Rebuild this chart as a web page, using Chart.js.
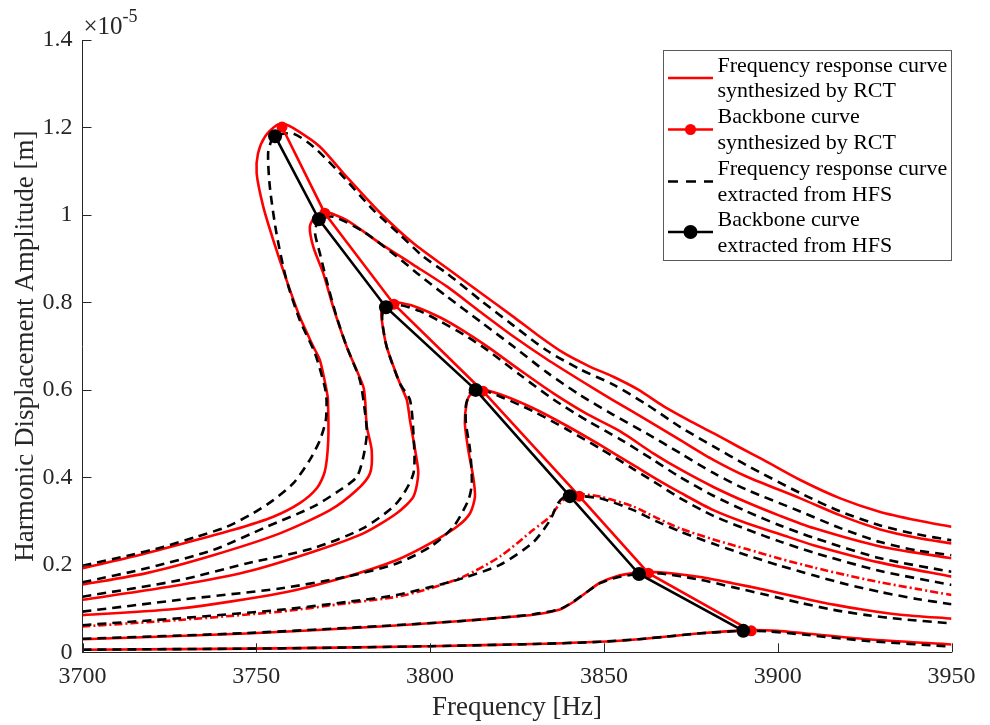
<!DOCTYPE html>
<html><head><meta charset="utf-8">
<script src="https://cdn.jsdelivr.net/npm/chart.js@4.4.0/dist/chart.umd.min.js"></script>
<style>html,body{margin:0;padding:0;background:#fff;}#wrap{width:990px;height:725px;position:relative;}</style>
</head><body><div id="wrap"><canvas id="c" width="990" height="725"></canvas></div>
<script>
// Axis ticks (frequency in Hz, amplitude in units of 1e-5 m)
const xTicks = [3700, 3750, 3800, 3850, 3900, 3950];
const yTicks = [0, 0.2, 0.4, 0.6, 0.8, 1.0, 1.2, 1.4];

// Frequency response curves synthesized by RCT (red)
const rct1F = [3700, 3714.6, 3729.0, 3743.4, 3754.9, 3762.5, 3767.4, 3769.7, 3770.7, 3770.6, 3770.2, 3768.3, 3766.4, 3762.5, 3758.7, 3754.9, 3752.0, 3750.1, 3750.5, 3752.5, 3755.8, 3757.7, 3761.6, 3768.3, 3776.0, 3785.6, 3795.2, 3804.9, 3814.5, 3824.0, 3831.0, 3838.3, 3845.5, 3852.7, 3860.0, 3867.1, 3874.3, 3881.5, 3888.7, 3895.9, 3906.5, 3918.0, 3929.5, 3940.0, 3950];
const rct1A = [0.192, 0.219, 0.249, 0.280, 0.310, 0.341, 0.375, 0.413, 0.485, 0.577, 0.600, 0.668, 0.699, 0.767, 0.851, 0.942, 1.019, 1.095, 1.141, 1.179, 1.205, 1.209, 1.194, 1.156, 1.087, 1.005, 0.935, 0.878, 0.822, 0.767, 0.725, 0.685, 0.655, 0.630, 0.600, 0.563, 0.531, 0.501, 0.470, 0.440, 0.394, 0.352, 0.321, 0.302, 0.287];
const rct2F = [3700, 3718.4, 3737.6, 3756.8, 3771.2, 3778.9, 3782.7, 3783.2, 3781.8, 3781.3, 3780.8, 3776.0, 3772.1, 3769.3, 3766.4, 3765.4, 3766.9, 3769.7, 3776.0, 3785.6, 3795.2, 3804.9, 3814.5, 3824.0, 3833.6, 3843.2, 3852.7, 3862.4, 3872.0, 3881.5, 3891.0, 3906.5, 3918.0, 3929.5, 3940.0, 3950];
const rct2A = [0.155, 0.181, 0.222, 0.272, 0.325, 0.371, 0.409, 0.462, 0.516, 0.577, 0.607, 0.699, 0.790, 0.866, 0.927, 0.973, 0.996, 1.007, 0.988, 0.935, 0.886, 0.836, 0.778, 0.722, 0.670, 0.622, 0.576, 0.531, 0.485, 0.440, 0.402, 0.352, 0.313, 0.281, 0.262, 0.249];
const rct3F = [3700, 3728.0, 3747.2, 3766.4, 3780.8, 3790.4, 3795.2, 3796.6, 3795.7, 3794.2, 3793.3, 3791.3, 3787.5, 3786.1, 3786.1, 3788.5, 3789.9, 3795.2, 3802.8, 3809.6, 3816.3, 3825.9, 3835.5, 3845.1, 3854.7, 3864.2, 3872.0, 3881.5, 3891.1, 3900.7, 3910.3, 3929.5, 3950];
const rct3A = [0.120, 0.154, 0.184, 0.230, 0.272, 0.318, 0.356, 0.409, 0.462, 0.531, 0.577, 0.615, 0.699, 0.760, 0.782, 0.801, 0.801, 0.792, 0.766, 0.735, 0.700, 0.645, 0.592, 0.545, 0.505, 0.455, 0.418, 0.378, 0.343, 0.312, 0.284, 0.242, 0.215];
const rct4F = [3700, 3728.0, 3756.8, 3776.0, 3790.4, 3800.0, 3807.7, 3811.5, 3812.9, 3812.4, 3811.0, 3810.0, 3810.5, 3811.5, 3814.4, 3820.1, 3829.7, 3839.3, 3848.9, 3858.5, 3866.0, 3872.0, 3881.5, 3891.1, 3900.7, 3910.3, 3929.5, 3950];
const rct4A = [0.085, 0.100, 0.135, 0.173, 0.211, 0.249, 0.287, 0.318, 0.356, 0.401, 0.462, 0.523, 0.569, 0.588, 0.600, 0.590, 0.558, 0.518, 0.474, 0.428, 0.392, 0.365, 0.325, 0.295, 0.270, 0.245, 0.205, 0.173];
const rct5F = [3700, 3728.0, 3756.8, 3776.0, 3790.4, 3800.0, 3809.6, 3820.1, 3829.7, 3834.5, 3837.4, 3840.2, 3843.1, 3848.9, 3858.5, 3865.0, 3872.0, 3881.5, 3891.1, 3900.7, 3910.3, 3920.0, 3929.5, 3940.0, 3950];
const rct5A = [0.059, 0.074, 0.093, 0.112, 0.127, 0.146, 0.173, 0.219, 0.280, 0.310, 0.341, 0.360, 0.362, 0.356, 0.333, 0.308, 0.283, 0.258, 0.236, 0.214, 0.194, 0.176, 0.160, 0.145, 0.131];
const rct6F = [3700, 3747.2, 3785.6, 3810.0, 3820.1, 3829.7, 3837.4, 3841.2, 3845.1, 3848.9, 3853.7, 3858.5, 3863.3, 3870.0, 3877.7, 3887.0, 3896.9, 3906.5, 3916.1, 3925.7, 3935.3, 3950];
const rct6A = [0.030, 0.043, 0.059, 0.072, 0.079, 0.086, 0.098, 0.115, 0.138, 0.159, 0.174, 0.181, 0.184, 0.180, 0.172, 0.158, 0.142, 0.125, 0.109, 0.096, 0.086, 0.077];
const rct7F = [3700, 3756.8, 3800.0, 3830.0, 3848.9, 3860.0, 3868.1, 3877.0, 3887.3, 3893.0, 3900.0, 3908.0, 3925.7, 3950];
const rct7A = [0.006, 0.009, 0.014, 0.019, 0.024, 0.030, 0.036, 0.043, 0.049, 0.051, 0.049, 0.043, 0.030, 0.018];

// Frequency response curves extracted from HFS (black dashed)
const hfs1F = [3700, 3713.6, 3723.2, 3732.8, 3741.5, 3749.1, 3754.9, 3760.6, 3765.4, 3768.3, 3770.0, 3770.2, 3769.7, 3766.9, 3762.5, 3758.7, 3755.8, 3753.9, 3753.4, 3754.4, 3755.6, 3760.6, 3766.4, 3774.1, 3783.7, 3791.3, 3798.0, 3804.9, 3814.5, 3824.0, 3833.6, 3843.2, 3852.7, 3862.4, 3872.0, 3881.5, 3891.0, 3906.5, 3918.0, 3929.5, 3940.0, 3950];
const hfs1A = [0.198, 0.222, 0.241, 0.264, 0.287, 0.318, 0.348, 0.386, 0.440, 0.485, 0.531, 0.577, 0.607, 0.683, 0.760, 0.851, 0.958, 1.064, 1.141, 1.171, 1.182, 1.186, 1.156, 1.095, 1.011, 0.955, 0.905, 0.866, 0.805, 0.747, 0.690, 0.647, 0.612, 0.566, 0.515, 0.471, 0.428, 0.364, 0.322, 0.290, 0.270, 0.256];
const hfs2F = [3700, 3718.4, 3737.6, 3753.0, 3766.4, 3774.1, 3778.9, 3780.8, 3781.8, 3781.3, 3779.8, 3776.0, 3773.1, 3770.2, 3768.3, 3766.9, 3767.4, 3768.0, 3772.1, 3780.8, 3790.4, 3797.0, 3804.9, 3814.5, 3824.0, 3833.6, 3843.2, 3852.7, 3862.4, 3872.0, 3881.5, 3891.0, 3906.5, 3918.0, 3929.5, 3940.0, 3950];
const hfs2A = [0.160, 0.192, 0.234, 0.287, 0.333, 0.371, 0.401, 0.447, 0.500, 0.547, 0.622, 0.699, 0.767, 0.851, 0.912, 0.958, 0.981, 0.990, 0.996, 0.962, 0.905, 0.862, 0.813, 0.756, 0.699, 0.640, 0.588, 0.543, 0.500, 0.455, 0.410, 0.372, 0.322, 0.284, 0.252, 0.233, 0.222];
const hfs3F = [3700, 3728.0, 3747.2, 3766.4, 3780.8, 3790.4, 3795.2, 3795.2, 3794.2, 3791.3, 3787.5, 3786.2, 3786.5, 3787.3, 3791.3, 3797.1, 3802.8, 3809.6, 3816.3, 3825.9, 3835.5, 3845.1, 3854.7, 3864.2, 3872.0, 3881.5, 3891.1, 3900.7, 3910.3, 3929.5, 3950];
const hfs3A = [0.127, 0.165, 0.203, 0.238, 0.284, 0.341, 0.409, 0.500, 0.577, 0.615, 0.699, 0.760, 0.782, 0.790, 0.794, 0.780, 0.757, 0.727, 0.692, 0.634, 0.578, 0.530, 0.487, 0.440, 0.400, 0.358, 0.322, 0.290, 0.262, 0.215, 0.184];
const hfs4F = [3700, 3728.0, 3756.8, 3776.0, 3790.4, 3800.0, 3806.7, 3811.0, 3812.0, 3811.5, 3810.3, 3810.3, 3811.2, 3812.1, 3816.3, 3829.7, 3839.3, 3848.9, 3858.5, 3866.0, 3872.0, 3881.5, 3891.1, 3900.7, 3910.3, 3929.5, 3950];
const hfs4A = [0.093, 0.120, 0.146, 0.173, 0.203, 0.241, 0.287, 0.348, 0.386, 0.462, 0.524, 0.565, 0.588, 0.600, 0.597, 0.551, 0.510, 0.466, 0.419, 0.382, 0.352, 0.312, 0.281, 0.253, 0.228, 0.186, 0.154];
const hfs5F = [3700, 3728.0, 3756.8, 3776.0, 3790.4, 3800.0, 3809.6, 3820.1, 3829.7, 3834.5, 3836.8, 3839.1, 3848.9, 3858.5, 3865.0, 3872.0, 3881.5, 3891.1, 3900.7, 3910.3, 3920.0, 3929.5, 3940.0, 3950];
const hfs5A = [0.062, 0.078, 0.097, 0.115, 0.131, 0.149, 0.170, 0.200, 0.252, 0.302, 0.341, 0.357, 0.352, 0.325, 0.300, 0.276, 0.248, 0.222, 0.198, 0.176, 0.155, 0.138, 0.122, 0.110];
const hfs6F = [3700, 3747.2, 3785.6, 3810.0, 3820.1, 3829.7, 3837.4, 3841.2, 3845.1, 3848.9, 3853.7, 3860.1, 3866.2, 3877.7, 3887.0, 3896.9, 3906.5, 3916.1, 3925.7, 3935.3, 3950];
const hfs6A = [0.031, 0.044, 0.060, 0.072, 0.079, 0.087, 0.099, 0.116, 0.138, 0.158, 0.171, 0.179, 0.180, 0.166, 0.149, 0.131, 0.113, 0.097, 0.085, 0.076, 0.066];
const hfs7F = [3700, 3756.8, 3800.0, 3830.0, 3848.9, 3860.0, 3868.1, 3877.0, 3887.3, 3890.1, 3897.0, 3908.0, 3925.7, 3950];
const hfs7A = [0.006, 0.009, 0.014, 0.019, 0.024, 0.030, 0.036, 0.043, 0.048, 0.049, 0.048, 0.040, 0.026, 0.013];

// Backbone curves
const bbRctF = [3757.4, 3769.7, 3789.6, 3815.2, 3842.9, 3862.8, 3892.4];
const bbRctA = [1.201, 1.004, 0.796, 0.597, 0.357, 0.181, 0.049];
const bbHfsF = [3755.4, 3768.0, 3787.3, 3813.1, 3840.2, 3860.1, 3890.1];
const bbHfsA = [1.180, 0.990, 0.789, 0.600, 0.357, 0.179, 0.049];

const legendLabels = [
  ["Frequency response curve", "synthesized by RCT"],
  ["Backbone curve", "synthesized by RCT"],
  ["Frequency response curve", "extracted from HFS"],
  ["Backbone curve", "extracted from HFS"]
];

const SERIF = "'Liberation Serif', 'Times New Roman', serif";
const AX = '#262626';
const pts = (F, A) => F.map((f, i) => ({x: f, y: A[i]}));

const rctSets = [[rct1F, rct1A], [rct2F, rct2A], [rct3F, rct3A], [rct4F, rct4A], [rct5F, rct5A], [rct6F, rct6A], [rct7F, rct7A]];
const hfsSets = [[hfs1F, hfs1A], [hfs2F, hfs2A], [hfs3F, hfs3A], [hfs4F, hfs4A], [hfs5F, hfs5A], [hfs6F, hfs6A], [hfs7F, hfs7A]];

const datasets = [];
rctSets.forEach(([F, A], i) => datasets.push({
  label: 'RCT FRC ' + (i + 1), data: pts(F, A), showLine: true, borderColor: '#ff0000',
  borderWidth: 2.6, pointRadius: 0, tension: 0.25, order: 3,
  borderDash: i === 4 ? [8, 3, 2, 3] : []
}));
hfsSets.forEach(([F, A], i) => datasets.push({
  label: 'HFS FRC ' + (i + 1), data: pts(F, A), showLine: true, borderColor: '#000000',
  borderWidth: 2.6, pointRadius: 0, tension: 0.25, order: 2, borderDash: [9, 6]
}));
datasets.push({label: 'RCT backbone', data: pts(bbRctF, bbRctA), showLine: true, borderColor: '#ff0000',
  borderWidth: 2.6, pointRadius: 5.5, pointBackgroundColor: '#ff0000', pointBorderWidth: 0, tension: 0, order: 1});
datasets.push({label: 'HFS backbone', data: pts(bbHfsF, bbHfsA), showLine: true, borderColor: '#000000',
  borderWidth: 2.6, pointRadius: 7, pointBackgroundColor: '#000000', pointBorderWidth: 0, tension: 0, order: 0});

const deco = {
  id: 'deco',
  afterDraw(chart) {
    const {ctx, chartArea: a, scales: {x, y}} = chart;
    ctx.save();
    ctx.strokeStyle = AX; ctx.lineWidth = 1; ctx.setLineDash([]);
    xTicks.forEach(v => { const p = Math.round(x.getPixelForValue(v)) + 0.5;
      ctx.beginPath(); ctx.moveTo(p, a.bottom); ctx.lineTo(p, a.bottom - 9); ctx.stroke(); });
    yTicks.forEach(v => { const p = Math.round(y.getPixelForValue(v)) + 0.5;
      ctx.beginPath(); ctx.moveTo(a.left, p); ctx.lineTo(a.left + 9, p); ctx.stroke(); });
    // exponent label
    ctx.fillStyle = AX; ctx.textBaseline = 'alphabetic'; ctx.textAlign = 'left';
    ctx.font = '25px ' + SERIF; ctx.fillText('\u00d710', a.left + 1, 34);
    const w = ctx.measureText('\u00d710').width;
    ctx.font = '18px ' + SERIF; ctx.fillText('-5', a.left + 1 + w, 22);
    // legend
    const L = 663.5, T = 50.5, R = 951.5, B = 260.5;
    ctx.fillStyle = '#ffffff'; ctx.fillRect(L, T, R - L, B - T);
    ctx.strokeStyle = '#5a5a5a'; ctx.lineWidth = 1; ctx.strokeRect(L, T, R - L, B - T);
    ctx.font = '22px ' + SERIF; ctx.fillStyle = '#000'; ctx.textBaseline = 'middle';
    const lineY = [66.7, 91.7, 117.3, 143.3, 169.3, 195, 220.5, 246.5];
    legendLabels.forEach((pair, k) => {
      ctx.fillText(pair[0], 717.5, lineY[2 * k]);
      ctx.fillText(pair[1], 717.5, lineY[2 * k + 1]);
    });
    const sy = [78, 129.5, 181.5, 232];
    const x0 = 668, x1 = 713, xm = 690.5;
    ctx.lineWidth = 2.6;
    ctx.strokeStyle = '#ff0000'; ctx.beginPath(); ctx.moveTo(x0, sy[0]); ctx.lineTo(x1, sy[0]); ctx.stroke();
    ctx.beginPath(); ctx.moveTo(x0, sy[1]); ctx.lineTo(x1, sy[1]); ctx.stroke();
    ctx.fillStyle = '#ff0000'; ctx.beginPath(); ctx.arc(xm, sy[1], 5.5, 0, 2 * Math.PI); ctx.fill();
    ctx.strokeStyle = '#000'; ctx.setLineDash([10, 8]); ctx.beginPath(); ctx.moveTo(x0, sy[2]); ctx.lineTo(x1, sy[2]); ctx.stroke();
    ctx.setLineDash([]); ctx.beginPath(); ctx.moveTo(x0, sy[3]); ctx.lineTo(x1, sy[3]); ctx.stroke();
    ctx.fillStyle = '#000'; ctx.beginPath(); ctx.arc(xm, sy[3], 7, 0, 2 * Math.PI); ctx.fill();
    ctx.restore();
  }
};

new Chart(document.getElementById('c'), {
  type: 'scatter',
  data: {datasets},
  options: {
    responsive: false, animation: false, events: [],
    layout: {padding: {top: 40, right: 38.5, left: 0, bottom: 0}},
    plugins: {legend: {display: false}, tooltip: {enabled: false}},
    scales: {
      x: {
        type: 'linear', min: 3700, max: 3950,
        afterFit: s => { s.height = 72.7; },
        afterBuildTicks: s => { s.ticks = xTicks.map(v => ({value: v})); },
        grid: {display: false, drawTicks: false},
        border: {display: true, color: AX, width: 1},
        ticks: {color: AX, font: {family: SERIF, size: 24}, padding: 10, maxRotation: 0, callback: v => String(v)},
        title: {display: true, text: 'Frequency [Hz]', color: AX, font: {family: SERIF, size: 27}, padding: {top: 0, bottom: 1}}
      },
      y: {
        type: 'linear', min: 0, max: 1.4,
        afterFit: s => { s.width = 82.5; },
        afterBuildTicks: s => { s.ticks = yTicks.map(v => ({value: v})); },
        grid: {display: false, drawTicks: false},
        border: {display: true, color: AX, width: 1},
        ticks: {color: AX, font: {family: SERIF, size: 24}, padding: 10, callback: v => String(+v.toFixed(1))},
        title: {display: true, text: 'Harmonic Displacement Amplitude [m]', color: AX, font: {family: SERIF, size: 27}, padding: {top: 10, bottom: 0}}
      }
    }
  },
  plugins: [deco]
});
</script></body></html>
